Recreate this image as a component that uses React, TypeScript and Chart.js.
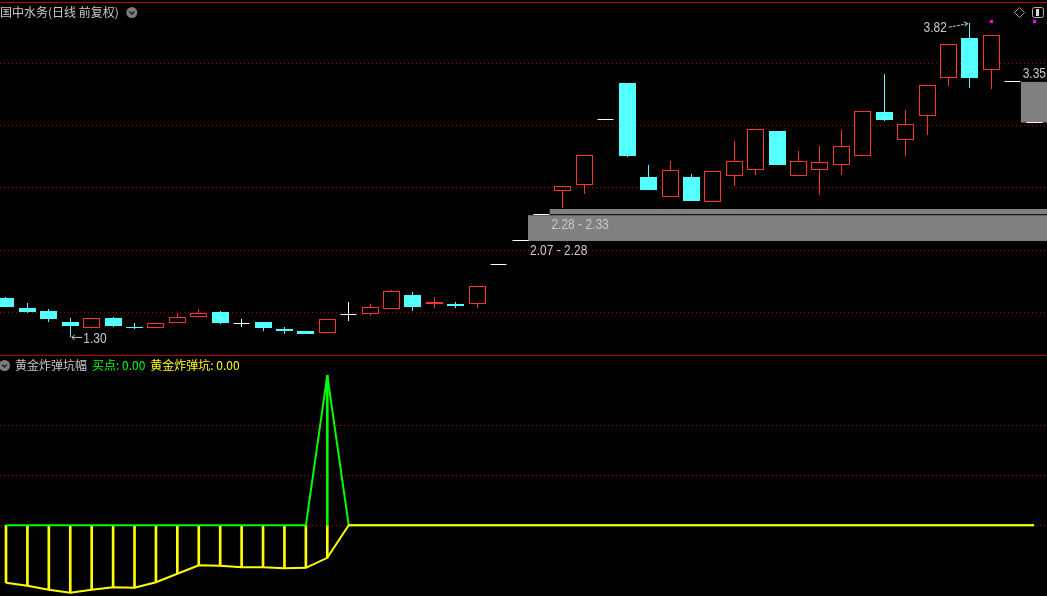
import React, { useEffect, useRef } from 'react';
import { Chart, registerables } from 'chart.js';

Chart.register(...registerables);

const WIDTH = 1047;
const PRICE_H = 355;
const IND_H = 241;

// ---- 日线 前复权 candles (index 0..48) ----
const opens  = [1.61,1.53,1.51,1.42,1.37,1.45,1.38,1.37,1.41,1.46,1.50,1.41,1.42,1.36,1.35,1.33,1.48,1.48,1.52,1.64,1.56,1.56,1.56,1.88,2.07,2.28,2.47,2.52,3.04,3.34,2.58,2.42,2.58,2.38,2.59,2.64,2.95,2.59,2.64,2.68,2.75,3.10,2.88,3.07,3.38,3.70,3.44,3.35,3.02];
const highs  = [1.62,1.57,1.52,1.45,1.45,1.46,1.41,1.41,1.49,1.52,1.51,1.44,1.42,1.38,1.35,1.44,1.58,1.56,1.68,1.66,1.62,1.58,1.71,1.88,2.07,2.28,2.51,2.76,3.04,3.34,2.68,2.71,2.61,2.63,2.87,2.97,2.95,2.79,2.83,2.96,3.11,3.41,3.12,3.32,3.65,3.82,3.72,3.35,3.02];
const lows   = [1.54,1.49,1.42,1.30,1.37,1.38,1.36,1.37,1.41,1.46,1.40,1.38,1.35,1.32,1.32,1.33,1.43,1.47,1.52,1.51,1.53,1.53,1.53,1.88,2.07,2.28,2.33,2.45,3.04,2.74,2.48,2.42,2.39,2.38,2.51,2.60,2.68,2.59,2.44,2.60,2.75,3.03,2.75,2.92,3.31,3.30,3.29,3.35,3.02];
const closes = [1.54,1.50,1.44,1.39,1.45,1.39,1.37,1.41,1.46,1.49,1.41,1.41,1.37,1.35,1.32,1.44,1.48,1.54,1.67,1.54,1.58,1.55,1.71,1.88,2.07,2.28,2.51,2.76,3.04,2.75,2.48,2.64,2.39,2.63,2.71,2.97,2.68,2.71,2.70,2.83,3.11,3.04,3.01,3.32,3.65,3.38,3.72,3.35,3.02];

// price gaps (缺口)
const gapStart = [24, 25, 47];
const gapLow = [2.07, 2.28, 3.02];
const gapHigh = [2.28, 2.33, 3.35];
const gapLabels = ['2.07 - 2.28', '2.28 - 2.33', ''];
const lastTag = 3.35;

const priceTicks = [1.5, 2.0, 2.5, 3.0, 3.5];
const signalIdx = [46, 48];
const signalPrice = [3.83, 3.83];

// ---- 黄金炸弹坑幅 indicator ----
const pitValues = [-11.5,-12.1,-12.9,-13.5,-12.9,-12.4,-12.5,-11.4,-9.7,-8.0,-8.1,-8.4,-8.4,-8.6,-8.5,-6.5,0,0,0,0,0,0,0,0,0,0,0,0,0,0,0,0,0,0,0,0,0,0,0,0,0,0,0,0,0,0,0,0,0];
const buyValues = [0,0,0,0,0,0,0,0,0,0,0,0,0,0,0,30,0,0,0,0,0,0,0,0,0,0,0,0,0,0,0,0,0,0,0,0,0,0,0,0,0,0,0,0,0,0,0,0,0];
const indTicks = [0, 10, 20];

const X_MIN = -0.28;
const X_MAX = 48.6;
const PRICE_MIN = 1.155;
const PRICE_MAX = 4.002;
const IND_MIN = -14.14;
const IND_MAX = 34.06;
const GAP_OFFSET = 0.37;

const RED = '#ff3232';
const CYAN = '#54ffff';
const WHITE = '#ffffff';
const GRID_RED = '#a00000';
const LINE_RED = '#b40000';
const LABEL = '#c8c8c8';
const NUM_FONT = '12px "Liberation Sans", Arial, sans-serif';
const CJK_FONT = '12px "Noto Sans CJK SC", sans-serif';

function colorOf(i: number) {
  if (closes[i] > opens[i]) return RED;
  if (closes[i] < opens[i]) return CYAN;
  return WHITE;
}

function numText(ctx: CanvasRenderingContext2D, s: string, x: number, y: number, color: string, align: CanvasTextAlign = 'left') {
  ctx.save();
  ctx.font = NUM_FONT;
  ctx.fillStyle = color;
  ctx.textAlign = align;
  ctx.textBaseline = 'middle';
  ctx.translate(x, y);
  ctx.scale(1, 1.2);
  ctx.fillText(s, 0, 0);
  ctx.restore();
}

function cjkText(ctx: CanvasRenderingContext2D, s: string, x: number, y: number, color: string) {
  ctx.save();
  ctx.font = CJK_FONT;
  ctx.fillStyle = color;
  ctx.textAlign = 'left';
  ctx.textBaseline = 'middle';
  ctx.fillText(s, x, y);
  const w = ctx.measureText(s).width;
  ctx.restore();
  return w;
}

function circleIcon(ctx: CanvasRenderingContext2D, cx: number, cy: number) {
  ctx.save();
  ctx.beginPath();
  ctx.arc(cx, cy, 5.5, 0, Math.PI * 2);
  ctx.fillStyle = '#7c7c7c';
  ctx.fill();
  ctx.beginPath();
  ctx.moveTo(cx - 2.5, cy - 1);
  ctx.lineTo(cx, cy + 1.5);
  ctx.lineTo(cx + 2.5, cy - 1);
  ctx.strokeStyle = '#202020';
  ctx.lineWidth = 1.5;
  ctx.stroke();
  ctx.restore();
}

// snap candle elements to the pixel grid so 1px outlines stay crisp
const snapPlugin = {
  id: 'snapPixels',
  afterDatasetsUpdate(chart: any) {
    chart.getSortedVisibleDatasetMetas().forEach((meta: any) => {
      if (meta.type === 'bar') {
        meta.data.forEach((el: any) => {
          el.x = Math.floor(el.x) + 0.5;
          el.y = Math.round(el.y);
          el.base = Math.round(el.base);
        });
      } else if (meta.type === 'scatter') {
        meta.data.forEach((el: any) => {
          el.x = Math.floor(el.x) + 0.5;
          el.y = Math.floor(el.y) + 0.5;
        });
      }
    });
  },
};

const pricePlugin = {
  id: 'pricePanel',
  beforeDatasetsDraw(chart: any) {
    const { ctx } = chart;
    const y = chart.scales.y;
    ctx.save();
    ctx.strokeStyle = GRID_RED;
    ctx.lineWidth = 1;
    ctx.setLineDash([1, 3]);
    priceTicks.forEach((t) => {
      const py = Math.round(y.getPixelForValue(t)) + 0.5;
      ctx.beginPath();
      ctx.moveTo(0, py);
      ctx.lineTo(WIDTH, py);
      ctx.stroke();
    });
    ctx.restore();
  },
  afterDraw(chart: any) {
    const { ctx } = chart;
    const x = chart.scales.x;
    const y = chart.scales.y;
    ctx.save();
    // top border
    ctx.fillStyle = '#c00000';
    ctx.fillRect(0, 2, WIDTH, 1);

    // title
    const w = cjkText(ctx, '国中水务(日线 前复权)', 0, 12, LABEL);
    circleIcon(ctx, w + 13, 12.5);

    // right icons
    ctx.strokeStyle = '#a0a0a0';
    ctx.lineWidth = 1;
    ctx.beginPath();
    ctx.moveTo(1019.5, 7.5);
    ctx.lineTo(1024.5, 12.5);
    ctx.lineTo(1019.5, 17.5);
    ctx.lineTo(1014.5, 12.5);
    ctx.closePath();
    ctx.stroke();
    ctx.beginPath();
    (ctx as any).roundRect(1032.5, 7.5, 11, 10, 2);
    ctx.strokeStyle = '#b4b4b4';
    ctx.stroke();
    ctx.fillStyle = '#d8d8d8';
    ctx.fillRect(1036, 9, 3, 7);

    // highest / lowest annotations
    let hi = 0, lo = 0;
    highs.forEach((v, i) => { if (v > highs[hi]) hi = i; });
    lows.forEach((v, i) => { if (v < lows[lo]) lo = i; });
    const hx = x.getPixelForValue(hi), hy = y.getPixelForValue(highs[hi]);
    ctx.strokeStyle = LABEL;
    ctx.lineWidth = 1;
    ctx.setLineDash([3, 1]);
    ctx.beginPath();
    ctx.moveTo(hx - 21, hy + 4.5);
    ctx.lineTo(hx - 2, hy + 1);
    ctx.stroke();
    ctx.setLineDash([]);
    ctx.beginPath();
    ctx.moveTo(hx - 6, hy - 1);
    ctx.lineTo(hx - 2, hy + 1);
    ctx.lineTo(hx - 5, hy + 3.5);
    ctx.stroke();
    numText(ctx, highs[hi].toFixed(2), hx - 23, hy + 5.6, LABEL, 'right');

    const lx = x.getPixelForValue(lo), ly = y.getPixelForValue(lows[lo]);
    ctx.beginPath();
    ctx.moveTo(lx + 12, ly + 0.5);
    ctx.lineTo(lx + 1.5, ly + 0.5);
    ctx.moveTo(lx + 4.5, ly - 2);
    ctx.lineTo(lx + 1.5, ly + 0.5);
    ctx.lineTo(lx + 4.5, ly + 3);
    ctx.stroke();
    numText(ctx, lows[lo].toFixed(2), lx + 13, ly + 1.7, LABEL, 'left');

    // gap labels
    gapStart.forEach((s, k) => {
      if (!gapLabels[k]) return;
      const gx = x.getPixelForValue(s + GAP_OFFSET);
      const gy = y.getPixelForValue(gapLow[k]);
      numText(ctx, gapLabels[k], gx + 2, gy + 10, LABEL, 'left');
    });

    // last price tag
    numText(ctx, lastTag.toFixed(2), WIDTH - 1, y.getPixelForValue(lastTag) - 7, LABEL, 'right');
    ctx.restore();
  },
};

const indPlugin = {
  id: 'indPanel',
  beforeDatasetsDraw(chart: any) {
    const { ctx } = chart;
    const y = chart.scales.y;
    ctx.save();
    ctx.strokeStyle = GRID_RED;
    ctx.lineWidth = 1;
    ctx.setLineDash([1, 3]);
    indTicks.forEach((t) => {
      const py = Math.round(y.getPixelForValue(t)) + 0.5;
      ctx.beginPath();
      ctx.moveTo(0, py);
      ctx.lineTo(WIDTH, py);
      ctx.stroke();
    });
    ctx.restore();
  },
  afterDraw(chart: any) {
    const { ctx } = chart;
    ctx.save();
    ctx.fillStyle = LINE_RED;
    ctx.fillRect(0, 0, WIDTH, 1);
    circleIcon(ctx, 4.5, 10.5);
    let cx = 15;
    cx += cjkText(ctx, '黄金炸弹坑幅', cx, 10, LABEL) + 5;
    cx += cjkText(ctx, '买点: ' + buyValues[buyValues.length - 1].toFixed(2), cx, 10, '#00ff00') + 5;
    cjkText(ctx, '黄金炸弹坑: ' + pitValues[pitValues.length - 1].toFixed(2), cx, 10, '#ffff00');
    ctx.restore();
  },
};

export default function App() {
  const topRef = useRef<HTMLCanvasElement | null>(null);
  const botRef = useRef<HTMLCanvasElement | null>(null);

  useEffect(() => {
    document.body.style.margin = '0';
    document.body.style.background = '#000';
    const idx = opens.map((_, i) => i);

    const wickIdx = idx.filter((i) => highs[i] > lows[i]);
    const bodyIdx = idx.filter((i) => opens[i] !== closes[i]);
    const flatIdx = idx.filter((i) => opens[i] === closes[i]);

    const gapSets = gapStart.map((s, k) => ({
      type: 'line' as const,
      data: [
        { x: s + GAP_OFFSET, y: gapHigh[k] },
        { x: X_MAX + 1, y: gapHigh[k] },
      ],
      fill: { value: gapLow[k] },
      backgroundColor: '#808080',
      borderColor: '#000000',
      borderWidth: 1,
      pointRadius: 0,
      order: 10,
    }));

    const top = new Chart(topRef.current as HTMLCanvasElement, {
      type: 'bar',
      data: {
        datasets: [
          ...gapSets,
          {
            type: 'bar',
            data: wickIdx.map((i) => ({ x: i, y: [lows[i], highs[i]] })),
            backgroundColor: wickIdx.map((i) => colorOf(i)),
            borderWidth: 0,
            barThickness: 1,
            inflateAmount: 0,
            grouped: false,
            order: 5,
          },
          {
            type: 'bar',
            data: bodyIdx.map((i) => ({ x: i, y: [Math.min(opens[i], closes[i]), Math.max(opens[i], closes[i])] })),
            backgroundColor: bodyIdx.map((i) => (colorOf(i) === RED ? '#000000' : colorOf(i))),
            borderColor: bodyIdx.map((i) => colorOf(i)),
            borderWidth: 1,
            borderSkipped: false,
            barThickness: 17,
            inflateAmount: 0,
            grouped: false,
            order: 4,
          },
          {
            type: 'scatter',
            data: flatIdx.map((i) => ({ x: i, y: closes[i] })),
            pointStyle: 'line',
            pointRadius: 8,
            pointBorderColor: WHITE,
            pointBorderWidth: 1,
            order: 3,
          },
          {
            type: 'scatter',
            data: signalIdx.map((i, k) => ({ x: i, y: signalPrice[k] })),
            pointStyle: 'rect',
            pointRadius: 2.2,
            pointBackgroundColor: '#ff00ff',
            pointBorderWidth: 0,
            order: 2,
          },
        ] as any,
      },
      options: {
        responsive: false,
        animation: false,
        devicePixelRatio: 1,
        events: [],
        layout: { padding: 0, autoPadding: false },
        plugins: { legend: { display: false }, tooltip: { enabled: false } },
        scales: {
          x: { type: 'linear', min: X_MIN, max: X_MAX, display: false, offset: false },
          y: { type: 'linear', min: PRICE_MIN, max: PRICE_MAX, display: false },
        },
      } as any,
      plugins: [snapPlugin, pricePlugin],
    });

    const pitStick = idx.filter((i) => pitValues[i] < 0);
    const buyStick = idx.filter((i) => buyValues[i] > 0);

    const bot = new Chart(botRef.current as HTMLCanvasElement, {
      type: 'line',
      data: {
        datasets: [
          {
            type: 'line',
            label: '黄金炸弹坑',
            data: idx.map((i) => ({ x: i, y: pitValues[i] })),
            borderColor: '#ffff00',
            borderWidth: 2,
            pointRadius: 0,
            fill: false,
            order: 0,
          },
          {
            type: 'line',
            label: '买点',
            data: idx.map((i) => ({ x: i, y: buyValues[i] })),
            borderColor: '#00ff00',
            borderWidth: 2,
            borderJoinStyle: 'bevel',
            pointRadius: 0,
            fill: false,
            order: 1,
          },
          {
            type: 'bar',
            data: buyStick.map((i) => ({ x: i, y: [0, buyValues[i]] })),
            backgroundColor: '#00ff00',
            borderWidth: 0,
            barThickness: 2,
            grouped: false,
            order: 2,
          },
          {
            type: 'bar',
            data: pitStick.map((i) => ({ x: i, y: [pitValues[i], 0] })),
            backgroundColor: '#ffff00',
            borderWidth: 0,
            barThickness: 2,
            grouped: false,
            order: 3,
          },
        ] as any,
      },
      options: {
        responsive: false,
        animation: false,
        devicePixelRatio: 1,
        events: [],
        layout: { padding: 0, autoPadding: false },
        plugins: { legend: { display: false }, tooltip: { enabled: false } },
        scales: {
          x: { type: 'linear', min: X_MIN, max: X_MAX, display: false, offset: false },
          y: { type: 'linear', min: IND_MIN, max: IND_MAX, display: false },
        },
      } as any,
      plugins: [indPlugin],
    });

    return () => {
      top.destroy();
      bot.destroy();
    };
  }, []);

  return (
    <div style={{ position: 'fixed', left: 0, top: 0, width: WIDTH, height: PRICE_H + IND_H, background: '#000', overflow: 'hidden' }}>
      <canvas ref={topRef} width={WIDTH} height={PRICE_H} style={{ display: 'block', width: WIDTH, height: PRICE_H }} />
      <canvas ref={botRef} width={WIDTH} height={IND_H} style={{ display: 'block', width: WIDTH, height: IND_H }} />
    </div>
  );
}
